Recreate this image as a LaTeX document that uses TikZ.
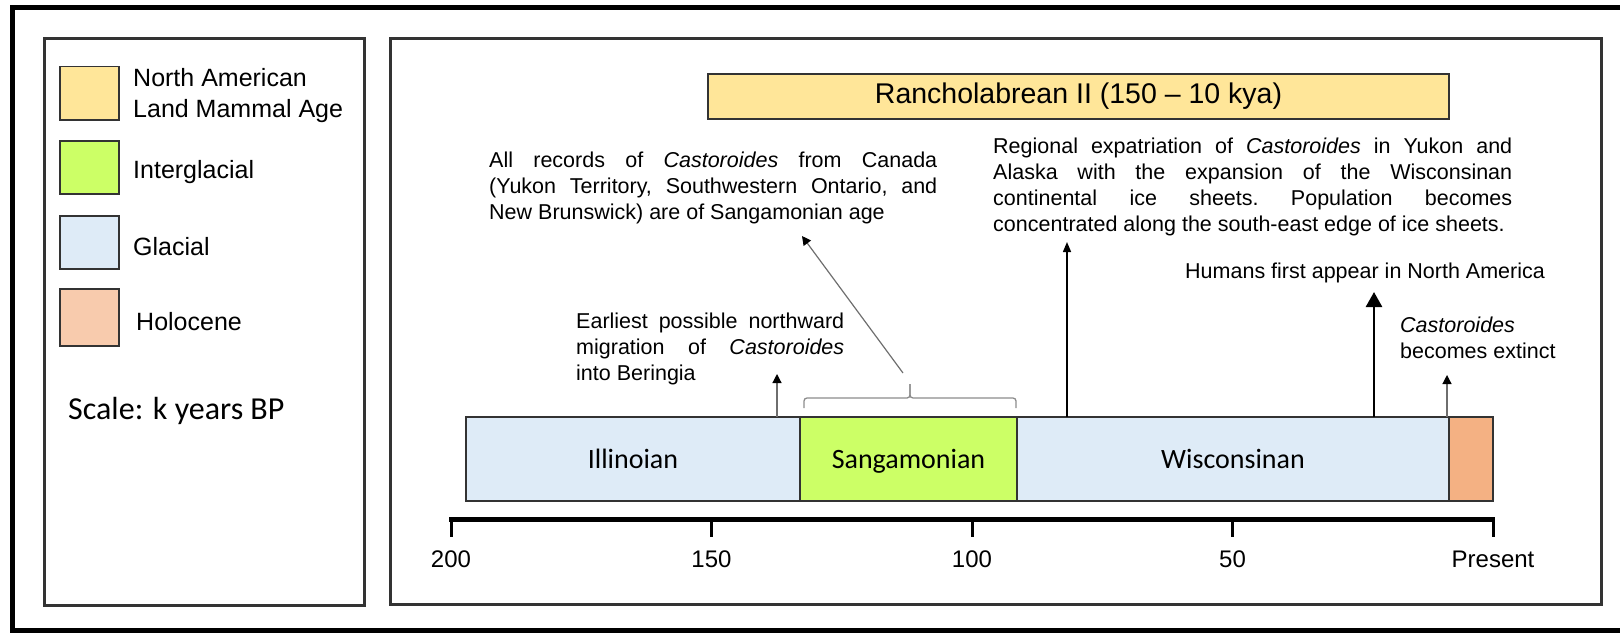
\documentclass[tikz,border=0pt]{standalone}
\usepackage{fontspec}
\setmainfont{Liberation Sans}
\newfontfamily\calibfont{Carlito}
\usepackage{tikz}
\usetikzlibrary{positioning,calc,arrows.meta}
\definecolor{nalmayellow}{HTML}{FFE699}
\definecolor{interglgreen}{HTML}{CCFF66}
\definecolor{glacblue}{HTML}{DEEBF7}
\definecolor{holopeach}{HTML}{F8CBAD}
\definecolor{holobar}{HTML}{F4B183}
\definecolor{framegray}{HTML}{333333}
\definecolor{leadgray}{HTML}{6E6E6E}
\definecolor{bracegray}{HTML}{8C8C8C}

\begin{document}
\begin{tikzpicture}[x=1pt, y=-1pt,
  agebox/.style={draw=framegray, line width=1.6pt, inner sep=0pt, outer sep=0pt},
  panelbox/.style={agebox, line width=2.2pt, anchor=north west},
  swatch/.style={agebox, minimum width=59pt, anchor=north west},
  stagebox/.style={agebox, minimum height=84pt, text height=18pt, text depth=0pt,
    font=\calibfont\fontsize{28}{32}\selectfont},
  legtext/.style={font=\fontsize{25}{31}\selectfont, anchor=base west, align=left, inner sep=0pt},
  note/.style={font=\fontsize{21.5}{26}\selectfont\frenchspacing, anchor=base west, inner sep=0pt},
  ticklab/.style={font=\fontsize{24}{28}\selectfont, anchor=base, inner sep=0pt},
  blacklead/.style={-{Triangle[length=10pt,width=8pt]}, line width=1.5pt},
  graylead/.style={draw=leadgray, line width=1.2pt, -{Triangle[length=9pt,width=9pt,color=black]}},
  bigarr/.style={-{Triangle[length=15pt,width=16pt]}, line width=2.6pt},
]
\useasboundingbox (0,0) rectangle (1620,632);
% pixel grid: x to the right, y downwards; the frame runs off on the right
\draw[line width=5pt] (1625,7.5) -- (12.5,7.5) -- (12.5,630) -- (1625,630);

% Two panels
\node[panelbox, minimum width=320pt, minimum height=567pt] (legend) at (44.5,38.5) {};
\node[panelbox, minimum width=1211pt, minimum height=566pt] (panel) at (390.5,38.5) {};

% Legend
\foreach \nm/\col/\yy/\hh in {nalma/nalmayellow/66.5/53.5, intergl/interglgreen/141/53,
                              glac/glacblue/216/53, holo/holopeach/289/57} {
  \node[swatch, fill=\col, minimum height=\hh pt] (sw-\nm) at (60,\yy) {};
}
\node[legtext] (lt-nalma) at (133,117.7) {North American\\Land Mammal Age};
\node[legtext] (lt-intergl) at (133,178.6) {Interglacial};
\node[legtext] (lt-glac) at (133,255) {Glacial};
\node[legtext] (lt-holo) at (136,330) {Holocene};
\node[font=\calibfont\fontsize{32}{38}\selectfont, anchor=base west, inner sep=0pt] (scale) at (68,419) {Scale: k years BP};

% Land mammal age bar
\node[agebox, fill=nalmayellow, minimum width=741pt, minimum height=45pt,
      font=\fontsize{28.5}{32}\selectfont] (ranch) at (1078.5,96.5) {Rancholabrean II (150 -- 10 kya)};

% Glacial / interglacial stages
\node[stagebox, fill=glacblue, minimum width=334pt, anchor=north west] (illinoian) at (466,417) {Illinoian};
\node[stagebox, fill=interglgreen, minimum width=217pt, right=0pt of illinoian] (sangamonian) {Sangamonian};
\node[stagebox, fill=glacblue, minimum width=432pt, right=0pt of sangamonian] (wisconsinan) {Wisconsinan};
\node[stagebox, fill=holobar, minimum width=44pt, right=0pt of wisconsinan] (holocene) {};

% Scale: 200 -> 451, Present -> 1493
\draw[line width=4.5pt] (449,519.5) -- (1495,519.5);
\foreach \i/\lab in {0/200, 1/150, 2/100, 3/50, 4/Present} {
  \pgfmathsetmacro{\xx}{451 + 260.5*\i}
  \draw[line width=3pt] (\xx,518) -- (\xx,537);
  \node[ticklab] (tick-\i) at (\xx,567) {\lab};
}

% Events
\node[note, text width=448pt, align=justify] (records) at (489,167)
  {All records of \textit{Castoroides} from Canada\linebreak
   (Yukon Territory, Southwestern Ontario, and\linebreak
   New Brunswick) are of Sangamonian age};
\node[note, text width=519pt, align=justify] (regional) at (993,153)
  {Regional expatriation of \textit{Castoroides} in Yukon and\linebreak
   Alaska with the expansion of the Wisconsinan\linebreak
   continental ice sheets. Population becomes\linebreak
   concentrated along the south-east edge of ice sheets.};
\node[note, text width=268pt, align=justify] (earliest) at (576,328)
  {Earliest possible northward\linebreak
   migration of \textit{Castoroides}\linebreak
   into Beringia};
\node[note] (humans) at (1185,278) {Humans first appear in North America};
\node[note, align=left] (extinct) at (1400,358) {\textit{Castoroides}\\becomes extinct};

% Bracket over the Sangamonian
\coordinate (brace-l) at (804,408);
\coordinate (brace-mid) at (910,384);
\coordinate (brace-r) at (1016,408);
\draw[bracegray, line width=1.3pt, rounded corners=3pt] (brace-l) |- (brace-mid |- 0,398) -- (brace-mid);
\draw[bracegray, line width=1.3pt, rounded corners=3pt] (brace-r) |- (brace-mid |- 0,398) -- (brace-mid);

% Arrows up to the notes
\coordinate (records-foot) at (903,373);
\coordinate (records-tip) at (802,236);
\coordinate (early-tip) at (777,374);
\coordinate (regional-tip) at (1067,242);
\coordinate (humans-tip) at (1374,292);
\coordinate (extinct-tip) at (1447,375);
\draw[graylead] (records-foot) -- (records-tip);
\draw[graylead] (early-tip |- illinoian.north) -- (early-tip);
\draw[blacklead] (regional-tip |- wisconsinan.north) -- (regional-tip);
\draw[bigarr] (humans-tip |- wisconsinan.north) -- (humans-tip);
\draw[graylead] (extinct-tip |- wisconsinan.north) -- (extinct-tip);
\end{tikzpicture}
\end{document}
